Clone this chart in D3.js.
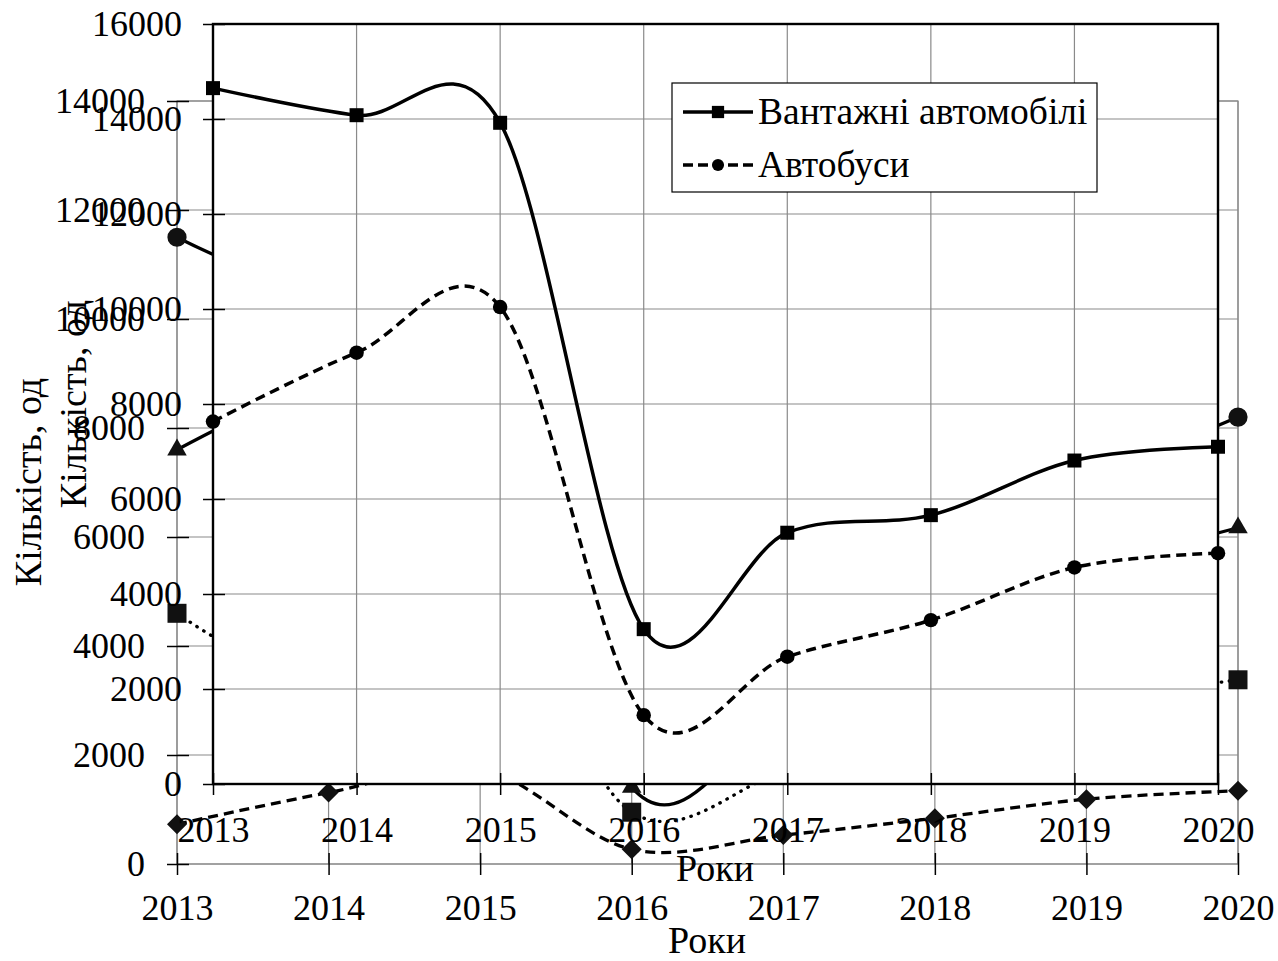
<!DOCTYPE html>
<html>
<head>
<meta charset="utf-8">
<script src="https://cdn.jsdelivr.net/npm/d3@7/dist/d3.min.js"></script>
<style>
  html, body { margin: 0; padding: 0; background: #fff; }
  svg { display: block; }
  text { font-family: "Liberation Serif", "Times New Roman", serif; fill: #000; }
</style>
</head>
<body>
<svg id="chart" width="1278" height="961"></svg>
<script>
// ---------- data ----------
const years = [2013, 2014, 2015, 2016, 2017, 2018, 2019, 2020];

// foreground chart series
const trucks = [14650, 14080, 13920, 3260, 5290, 5660, 6810, 7100];   // Вантажні автомобілі
const buses  = [7630, 9080, 10040, 1450, 2680, 3450, 4560, 4860];     // Автобуси

// background chart series (mostly hidden behind the foreground chart)
const bgCircles   = [11500, 10500, 11200, 5000, 6000, 6700, 7150, 8200];
const bgTriangles = [7600, 8900, 9400, 1410, 2830, 4840, 5470, 6170];
const bgSquares   = [4600, 3380, 5170, 950, 1700, 2640, 3000, 3380];
const bgDiamonds  = [730, 1310, 1750, 270, 530, 840, 1190, 1345];

const fgYTicks = [0, 2000, 4000, 6000, 8000, 10000, 12000, 14000, 16000];
const bgYTicks = [0, 2000, 4000, 6000, 8000, 10000, 12000, 14000];

const seriesNames = ["Вантажні автомобілі", "Автобуси"];
const xTitle = "Роки";
const yTitle = "Кількість, од";

// ---------- setup ----------
const svg = d3.select("#chart");
const GRID = "#8a8a8a";
const FS = 36;      // numbers
const FS_T = 38;    // titles
const FS_L = 37.5;  // legend

const bgX = d3.scaleLinear().domain([2013, 2020]).range([177, 1238]);
const bgY = d3.scaleLinear().domain([0, 14000]).range([864, 101]);
const fgX = d3.scaleLinear().domain([2013, 2020]).range([213, 1218]);
const fgY = d3.scaleLinear().domain([0, 16000]).range([784, 24]);

const smooth = d3.curveCardinal.tension(0);

function drawGrid(g, x, y, yTicks) {
  g.append("g").selectAll("line").data(yTicks).join("line")
    .attr("x1", x.range()[0]).attr("x2", x.range()[1])
    .attr("y1", d => y(d)).attr("y2", d => y(d))
    .attr("stroke", GRID).attr("stroke-width", 1.2);
  g.append("g").selectAll("line").data(years).join("line")
    .attr("x1", d => x(d)).attr("x2", d => x(d))
    .attr("y1", y.range()[0]).attr("y2", y.range()[1])
    .attr("stroke", GRID).attr("stroke-width", 1.2);
}

function addAxes(g, x, y, yTicks, padY, padX) {
  const ax = g.append("g").attr("transform", `translate(${x.range()[0]},0)`)
    .call(d3.axisLeft(y).tickValues(yTicks).tickSize(10).tickPadding(padY).tickFormat(d3.format("d")));
  ax.select(".domain").remove();
  ax.selectAll(".tick line").attr("x2", -10).attr("x1", 12).attr("stroke", "#000").attr("stroke-width", 1.5);
  ax.selectAll(".tick text").attr("font-size", FS).attr("font-family", "Liberation Serif");

  const bx = g.append("g").attr("transform", `translate(0,${y.range()[0]})`)
    .call(d3.axisBottom(x).tickValues(years).tickSize(11).tickPadding(padX).tickFormat(d3.format("d")));
  bx.select(".domain").remove();
  bx.selectAll(".tick line").attr("y1", -11).attr("y2", 11).attr("stroke", "#000").attr("stroke-width", 1.5);
  bx.selectAll(".tick text").attr("font-size", FS).attr("font-family", "Liberation Serif");
}

function lineFor(x, y, vals) {
  return d3.line().x((d, i) => x(years[i])).y(d => y(d)).curve(smooth)(vals);
}

// ---------- background chart ----------
const bg = svg.append("g");
drawGrid(bg, bgX, bgY, bgYTicks);
bg.append("rect").attr("x", 177).attr("y", 101).attr("width", 1238 - 177).attr("height", 864 - 101)
  .attr("fill", "none").attr("stroke", GRID).attr("stroke-width", 1.2);
addAxes(bg, bgX, bgY, bgYTicks, 22, 19.5);
bg.append("text").attr("x", 707).attr("y", 953).attr("text-anchor", "middle").attr("font-size", FS_T).text(xTitle);
bg.append("text").attr("transform", "translate(41,482) rotate(-90)").attr("text-anchor", "middle").attr("font-size", FS_T).text(yTitle);

const bgSeries = [
  { vals: bgCircles,   dash: null,   cap: "butt",  sym: d3.symbolCircle,   size: 290, rot: 0 },
  { vals: bgTriangles, dash: null,   cap: "butt",  sym: d3.symbolTriangle, size: 165, rot: 0 },
  { vals: bgSquares,   dash: "0.5,7.5", cap: "round", sym: d3.symbolSquare, size: 361, rot: 0 },
  { vals: bgDiamonds,  dash: "10,6", cap: "butt",  sym: d3.symbolSquare,   size: 200, rot: 45 }
];
bgSeries.forEach(s => {
  bg.append("path").attr("d", lineFor(bgX, bgY, s.vals)).attr("fill", "none")
    .attr("stroke", "#000").attr("stroke-width", 3.3).attr("stroke-linecap", s.cap)
    .attr("stroke-dasharray", s.dash);
});
bgSeries.forEach(s => {
  bg.append("g").selectAll("path").data(s.vals).join("path")
    .attr("d", d3.symbol().type(s.sym).size(s.size))
    .attr("transform", (d, i) => `translate(${bgX(years[i])},${bgY(d)}) rotate(${s.rot})`)
    .attr("fill", "#111");
});

// ---------- foreground chart ----------
const fg = svg.append("g");
fg.append("rect").attr("x", 213).attr("y", 24).attr("width", 1218 - 213).attr("height", 784 - 24).attr("fill", "#fff");
drawGrid(fg, fgX, fgY, fgYTicks);

fg.append("path").attr("d", lineFor(fgX, fgY, trucks)).attr("fill", "none")
  .attr("stroke", "#000").attr("stroke-width", 3.5);
fg.append("path").attr("d", lineFor(fgX, fgY, buses)).attr("fill", "none")
  .attr("stroke", "#000").attr("stroke-width", 3.5).attr("stroke-dasharray", "10,6");

fg.append("rect").attr("x", 213).attr("y", 24).attr("width", 1218 - 213).attr("height", 784 - 24)
  .attr("fill", "none").attr("stroke", "#000").attr("stroke-width", 2.4);

fg.append("g").selectAll("path").data(trucks).join("path")
  .attr("d", d3.symbol().type(d3.symbolSquare).size(196))
  .attr("transform", (d, i) => `translate(${fgX(years[i])},${fgY(d)})`).attr("fill", "#000");
fg.append("g").selectAll("path").data(buses).join("path")
  .attr("d", d3.symbol().type(d3.symbolCircle).size(165))
  .attr("transform", (d, i) => `translate(${fgX(years[i])},${fgY(d)})`).attr("fill", "#000");

addAxes(fg, fgX, fgY, fgYTicks, 21, 21.5);
fg.append("text").attr("x", 715).attr("y", 881).attr("text-anchor", "middle").attr("font-size", FS_T).text(xTitle);
fg.append("text").attr("transform", "translate(86,404) rotate(-90)").attr("text-anchor", "middle").attr("font-size", FS_T).text(yTitle);

// ---------- legend ----------
const lg = svg.append("g");
lg.append("rect").attr("x", 672).attr("y", 83).attr("width", 425).attr("height", 109)
  .attr("fill", "#fff").attr("stroke", "#000").attr("stroke-width", 1.2);
const legendRows = [
  { name: seriesNames[0], y: 112, dash: null, sym: d3.symbolSquare, size: 150 },
  { name: seriesNames[1], y: 165, dash: "10,5", sym: d3.symbolCircle, size: 115 }
];
legendRows.forEach(r => {
  lg.append("line").attr("x1", 683).attr("x2", 753).attr("y1", r.y).attr("y2", r.y)
    .attr("stroke", "#000").attr("stroke-width", 3.3).attr("stroke-dasharray", r.dash);
  lg.append("path").attr("d", d3.symbol().type(r.sym).size(r.size)).attr("transform", `translate(718,${r.y})`).attr("fill", "#000");
  lg.append("text").attr("x", 758).attr("y", r.y + 12).attr("font-size", FS_L).text(r.name);
});
</script>
</body>
</html>
